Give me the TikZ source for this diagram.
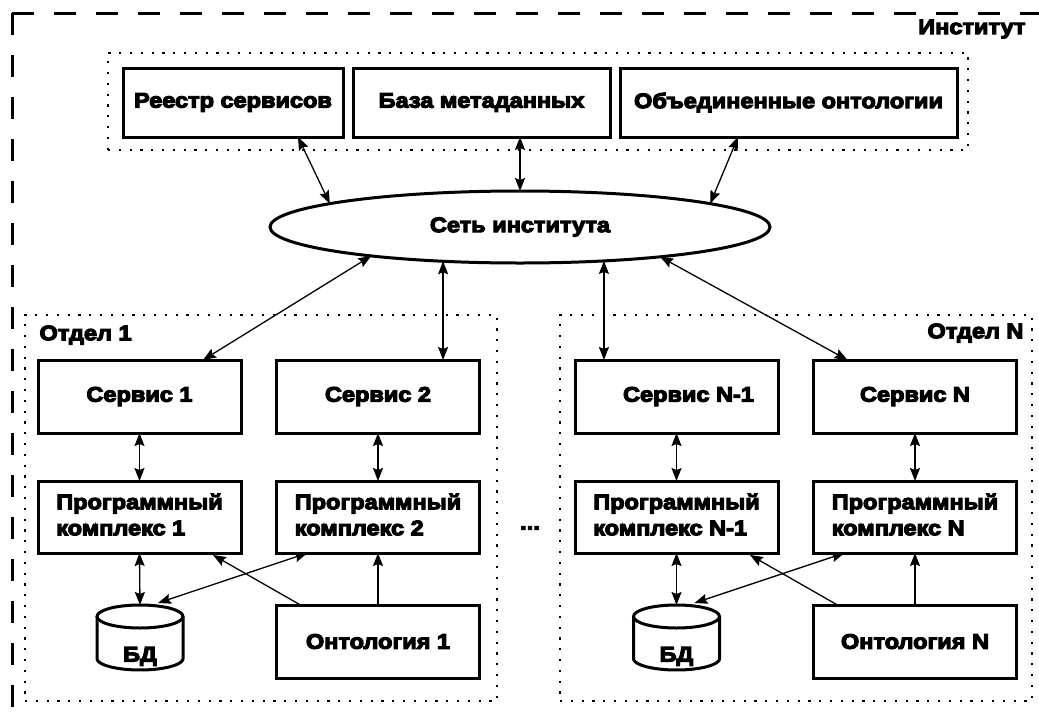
\documentclass[tikz,border=0pt]{standalone}
\usepackage{fontspec}
\newfontfamily\lbl{Liberation Sans}[FakeStretch=1.12, FakeBold=5.5]
\usetikzlibrary{arrows.meta,shapes.geometric,calc}
\tikzset{
  lab/.style={font=\lbl\bfseries\fontsize{21}{26}\selectfont, text=black},
  box/.style={lab, draw, line width=3pt, inner sep=0pt, outer sep=0pt, align=center, minimum width=203pt, minimum height=73pt},
  tbox/.style={box, minimum height=69pt},
  dbbox/.style={lab, inner sep=0pt, outer sep=0pt, minimum width=86pt, minimum height=65pt},
  dotbox/.style={draw, line width=2.2pt, dash pattern=on 2.2pt off 8.6pt, inner sep=0pt, outer sep=0pt},
  frame/.style={line width=3pt, dash pattern=on 22pt off 20pt},
  bi/.style={line width=1.3pt, {Stealth[length=13pt,width=10pt,inset=2pt]}-{Stealth[length=13pt,width=10pt,inset=2pt]}},
  one/.style={line width=1.3pt, -{Stealth[length=13pt,width=10pt,inset=2pt]}},
  cyl/.style={line width=3pt}
}
\begin{document}
\begin{tikzpicture}[x=1pt,y=-1pt]
\useasboundingbox (0,0) rectangle (1039,715);
\clip (0,0) rectangle (1039,715);
\fill[white] (0,0) rectangle (1039,715);
% outer institute frame
\draw[frame] (12,13) -- (12,760);
\draw[frame] (12,13) -- (1080,13);
\node[lab, anchor=east] (inst) at (1029,29) {Институт};
% top group
\node[dotbox, minimum width=860pt, minimum height=97pt] (topgrp) at (538,101.5) {};
\node[tbox, minimum width=220pt] (reg) at (233,102.5) {Реестр сервисов};
\node[tbox, minimum width=257pt] (base) at (481.5,102.5) {База метаданных};
\node[tbox, minimum width=337pt] (obj) at (788.5,102.5) {Объединенные онтологии};
% network
\node[lab, ellipse, draw, line width=3pt, minimum width=500pt, minimum height=72pt, inner sep=0pt, outer sep=0pt] (net) at (520,227) {Сеть института};
% departments
\node[dotbox, minimum width=472pt, minimum height=386pt] (dep1) at (261,508) {};
\node[dotbox, minimum width=472pt, minimum height=386pt] (depN) at (796,508) {};
\node[lab, anchor=west] (dep1lab) at (36,335) {Отдел 1};
\node[lab, anchor=east] (depNlab) at (1027,333) {Отдел N};
% department 1
\node[box] (s1) at (139.5,396.5) {Сервис 1};
\node[box] (s2) at (378,396.5) {Сервис 2};
\node[box, minimum height=72pt] (p1) at (139.5,517) {\begin{tabular}{@{}l@{}}Программный\\комплекс 1\end{tabular}};
\node[box, minimum height=72pt] (p2) at (378,517) {\begin{tabular}{@{}l@{}}Программный\\комплекс 2\end{tabular}};
\node[box] (o1) at (378,641.5) {Онтология 1};
\node[dbbox] (db1) at (140,637.5) {\raisebox{-24pt}[0pt][0pt]{БД}};
% department N
\node[box] (sN1) at (676.5,396.5) {\hspace*{24pt}Сервис N-1};
\node[box] (sN) at (915,396.5) {Сервис N};
\node[box, minimum height=72pt] (pN1) at (676.5,517) {\begin{tabular}{@{}l@{}}Программный\\комплекс N-1\end{tabular}};
\node[box, minimum height=72pt] (pN) at (915,517) {\begin{tabular}{@{}l@{}}Программный\\комплекс N\end{tabular}};
\node[box] (oN) at (915,641.5) {Онтология N};
\node[dbbox] (dbN) at (676.5,637.5) {\raisebox{-24pt}[0pt][0pt]{БД}};
\node[lab] (dots) at (530,528) {...};
% cylinders
\foreach \d in {db1,dbN}{
  \draw[cyl, shift={(\d.center)}] (0,-21) ellipse [x radius=43pt, y radius=11.5pt];
  \draw[cyl, shift={(\d.center)}] (-43,-21) -- (-43,21)
     -- plot[domain=180:360, samples=40] ({43*cos(\x)},{21-11.5*sin(\x)})
     -- (43,-21);
}
% top arrows
\draw[bi] ($(reg.south east)+(-45,0)$) -- (net.173.3);
\draw[bi] (net.north |- base.south) -- (net.north);
\draw[bi] ($(obj.south west)+(118,0)$) -- (net.7.9);
% network to departments
\draw[bi] (net.191.2) -- ($(s1.north east)+(-38,0)$);
\draw[bi] (net.204.9) -- (net.204.9 |- s2.north);
\draw[bi] (net.338.3) -- (net.338.3 |- sN1.north);
\draw[bi] (net.348.3) -- ($(sN.north west)+(34,0)$);
% inside department 1
\draw[bi] (s1.south) -- (p1.north);
\draw[bi] (s2.south) -- (p2.north);
\draw[bi] (p1.south) -- (db1.north);
\draw[bi] ($(p2.south west)+(31,0)$) -- ($(db1.north)+(18,-2)$);
\draw[one] ($(o1.north west)+(24,0)$) -- ($(p1.south east)+(-28,2)$);
\draw[one] (o1.north) -- (p2.south);
% inside department N
\draw[bi] (sN1.south) -- (pN1.north);
\draw[bi] (sN.south) -- (pN.north);
\draw[bi] (pN1.south) -- (dbN.north);
\draw[bi] ($(pN.south west)+(31,0)$) -- ($(dbN.north)+(18,-2)$);
\draw[one] ($(oN.north west)+(24,0)$) -- ($(pN1.south east)+(-28,2)$);
\draw[one] (oN.north) -- (pN.south);
\end{tikzpicture}
\end{document}
